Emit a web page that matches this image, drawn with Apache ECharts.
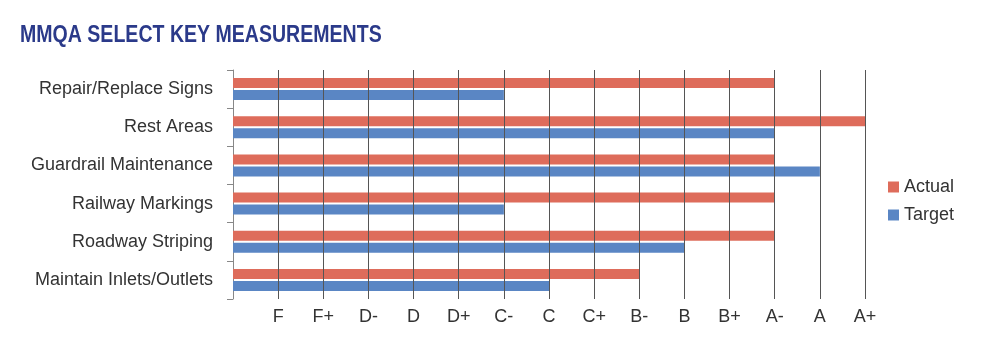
<!DOCTYPE html>
<html>
<head>
<meta charset="utf-8">
<script src="https://cdn.jsdelivr.net/npm/echarts@6/dist/echarts.min.js"></script>
<style>
html,body{margin:0;padding:0;background:#fff;}
#main{width:985px;height:357px;}
</style>
</head>
<body>
<div id="main"></div>
<script>
const titleText = 'MMQA SELECT KEY MEASUREMENTS';
const categories = ['Repair/Replace Signs','Rest Areas','Guardrail Maintenance','Railway Markings','Roadway Striping','Maintain Inlets/Outlets'];
const grades = ['', 'F','F+','D-','D','D+','C-','C','C+','B-','B','B+','A-','A','A+'];
const actualValues = [12, 14, 12, 12, 12, 9];
const targetValues = [6, 12, 13, 6, 10, 7];

const chart = echarts.init(document.getElementById('main'));
chart.setOption({
  animation: false,
  graphic: [{
    type: 'text', left: 20, top: 24, scaleX: 0.85,
    style: {text: titleText, font: 'bold 23px "Liberation Sans", Arial, sans-serif', fill: '#2b3a8a'}
  }],
  legend: {
    orient: 'vertical', left: 883, top: 173,
    itemWidth: 11, itemHeight: 11, itemGap: 10,
    icon: 'rect',
    textStyle: {fontFamily: '"Liberation Sans", Arial, sans-serif', fontSize: 18, color: '#333'},
    data: ['Actual','Target']
  },
  grid: {left: 233, right: 120, top: 70, bottom: 58, containLabel: false},
  xAxis: {
    type: 'value', min: 0, max: 14, interval: 1, z: 5,
    axisLine: {show: false},
    axisTick: {show: false},
    splitLine: {show: true, lineStyle: {color: '#555', width: 1}, showMinLine: false},
    axisLabel: {
      margin: 9,
      fontFamily: '"Liberation Sans", Arial, sans-serif', fontSize: 18, color: '#333',
      formatter: v => grades[v] || ''
    }
  },
  yAxis: {
    type: 'category', inverse: true, data: categories,
    axisLine: {show: true, lineStyle: {color: '#888'}},
    axisTick: {show: true, length: 6, lineStyle: {color: '#888'}},
    axisLabel: {margin: 20, fontFamily: '"Liberation Sans", Arial, sans-serif', fontSize: 18, color: '#333'}
  },
  series: [
    {name: 'Actual', type: 'bar', data: actualValues, barWidth: 10, barGap: '20%', itemStyle: {color: '#de6c5b'}},
    {name: 'Target', type: 'bar', data: targetValues, barWidth: 10, barGap: '20%', itemStyle: {color: '#5a86c4'}}
  ]
});
</script>
</body>
</html>
